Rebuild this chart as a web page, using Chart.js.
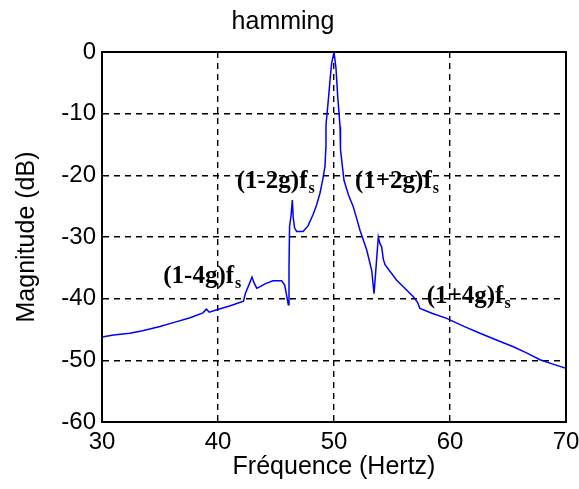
<!DOCTYPE html>
<html>
<head>
<meta charset="utf-8">
<script src="https://cdn.jsdelivr.net/npm/chart.js@4"></script>
<style>
html,body{margin:0;padding:0;background:#fff;}
canvas{display:block;}
</style>
</head>
<body>
<canvas id="c" width="579" height="489"></canvas>
<script>
// ---- data ----
const freqs = [30.0,31.0,32.4,33.5,35.0,36.3,37.6,38.7,39.0,39.25,39.9,41.0,42.2,42.35,42.7,42.93,43.1,43.34,43.6,44.05,44.74,45.49,45.75,45.92,46.06,46.12,46.17,46.3,46.41,46.48,46.6,46.78,47.33,47.76,48.19,48.5,48.79,49.05,49.22,49.3,49.31,49.51,49.66,49.8,50.0,50.17,50.32,50.52,50.56,50.86,51.25,51.66,52.0,52.24,52.82,53.25,53.45,53.62,53.82,53.95,54.11,54.25,54.4,55.4,56.0,56.84,57.2,57.41,58.5,59.71,61.2,62.59,64.0,65.46,66.6,67.76,69.0,70.0];
const mags  = [-46.2,-45.9,-45.6,-45.2,-44.5,-43.8,-43.1,-42.3,-41.7,-42.2,-41.8,-41.2,-40.4,-39.2,-37.6,-36.5,-37.4,-38.3,-38.1,-37.6,-37.1,-37.1,-37.8,-39.5,-41.0,-35.0,-28.3,-26.5,-24.0,-26.8,-28.5,-29.1,-29.1,-28.2,-26.4,-24.8,-22.9,-20.5,-18.6,-15.5,-11.8,-7.8,-4.5,-1.8,0,-2.6,-7.2,-12.1,-15.8,-20.8,-23.2,-25.1,-27.3,-28.9,-32.1,-35.4,-39.2,-35.0,-30.0,-31.0,-31.6,-33.6,-34.5,-37.0,-38.1,-39.7,-40.6,-41.6,-42.4,-43.2,-44.5,-45.6,-46.7,-47.8,-48.8,-49.9,-50.7,-51.3];
const xTicks = [30,40,50,60,70];
const yTicks = [0,-10,-20,-30,-40,-50,-60];
const annoMain = ['(1-2g)f','(1+2g)f','(1-4g)f','(1+4g)f'];
const annoSub  = ['s','s','s','s'];
const annoX    = [41.61,51.81,35.28,57.99];
const annoY    = [-22.05,-22.05,-37.5,-40.75];

// ---- chart ----
const points = freqs.map((f,i)=>({x:f,y:mags[i]}));

const annotatePlugin = {
  id:'annot',
  afterDraw(chart){
    const {ctx, chartArea:a, scales:{x,y}} = chart;
    ctx.save();
    ctx.strokeStyle='#000';
    ctx.lineWidth=2;
    ctx.strokeRect(a.left, a.top, a.right-a.left, a.bottom-a.top);
    ctx.fillStyle='#000';
    ctx.textBaseline='alphabetic';
    ctx.textAlign='left';
    for(let i=0;i<annoMain.length;i++){
      const px = x.getPixelForValue(annoX[i]);
      const py = y.getPixelForValue(annoY[i]);
      ctx.font='bold 25px "Liberation Serif", "Times New Roman", serif';
      ctx.fillText(annoMain[i], px, py);
      const w = ctx.measureText(annoMain[i]).width;
      ctx.font='bold 16px "Liberation Serif", "Times New Roman", serif';
      ctx.fillText(annoSub[i], px+w+1, py+5);
    }
    ctx.restore();
  }
};

const gridCommon = {color:'#000', lineWidth:1.4, drawTicks:false};
new Chart(document.getElementById('c'),{
  type:'line',
  data:{datasets:[{data:points, borderColor:'#0000ff', borderWidth:1.5, pointRadius:0, tension:0, fill:false}]},
  options:{
    responsive:false, animation:false, devicePixelRatio:1,
    layout:{padding:{left:0,right:13,top:0,bottom:0}},
    plugins:{
      legend:{display:false}, tooltip:{enabled:false},
      title:{display:true, text:'hamming', color:'#000',
        font:{family:'"Liberation Sans", Arial, sans-serif', size:25, weight:'normal'},
        padding:{top:7,bottom:15}}
    },
    scales:{
      x:{type:'linear', min:30, max:70,
        afterBuildTicks(s){ s.ticks = xTicks.map(v=>({value:v})); },
        afterFit(s){ s.height = 67; s.paddingLeft = 0; s.paddingRight = 0; },
        grid:gridCommon,
        border:{display:true, color:'#000', width:2, dash:[6,5]},
        ticks:{color:'#000', padding:6, maxRotation:0, autoSkip:false,
          font:{family:'"Liberation Sans", Arial, sans-serif', size:24}},
        title:{display:true, text:'Fréquence (Hertz)', color:'#000',
          font:{family:'"Liberation Sans", Arial, sans-serif', size:25}, padding:{top:0,bottom:7}}
      },
      y:{type:'linear', min:-60, max:0,
        afterBuildTicks(s){ s.ticks = yTicks.map(v=>({value:v})); },
        afterFit(s){ s.width = 102; s.paddingTop = 0; s.paddingBottom = 0; },
        grid:gridCommon,
        border:{display:true, color:'#000', width:2, dash:[6,5]},
        ticks:{color:'#000', padding:6, autoSkip:false,
          font:{family:'"Liberation Sans", Arial, sans-serif', size:24}},
        title:{display:true, text:'Magnitude (dB)', color:'#000',
          font:{family:'"Liberation Sans", Arial, sans-serif', size:25}, padding:{top:12,bottom:0}}
      }
    }
  },
  plugins:[annotatePlugin]
});
</script>
</body>
</html>
